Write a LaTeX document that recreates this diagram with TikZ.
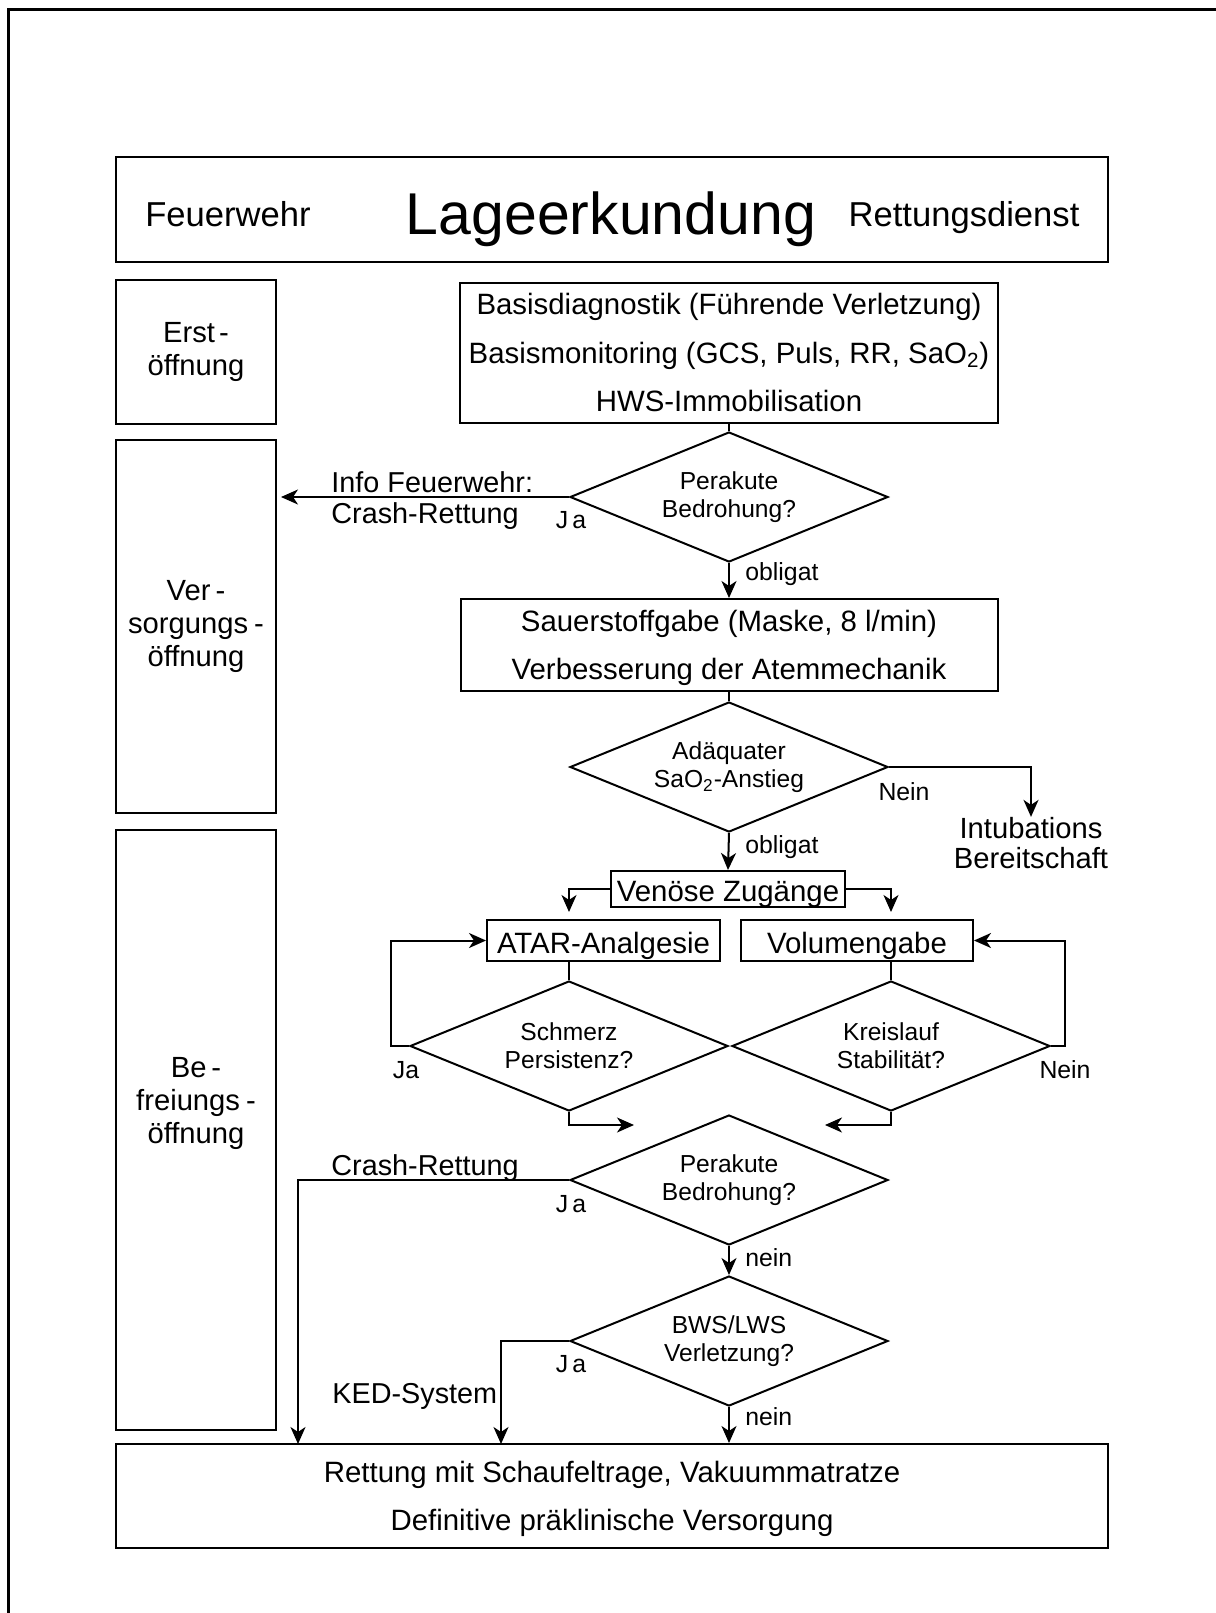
\documentclass[tikz,border=0pt]{standalone}
\usepackage{fontspec}
\setmainfont{Liberation Sans}
\usetikzlibrary{arrows.meta, positioning, shapes.geometric}

\tikzset{
  wbox/.style={draw, line width=1pt, align=center, inner sep=0pt,
               font=\fontsize{14.7}{24.2}\selectfont},
  onebox/.style={wbox, text height=12.6pt, text depth=0pt},
  sbox/.style={draw, line width=1pt, minimum width=80pt, align=center,
               inner sep=0pt, font=\fontsize{14.6}{16.5}\selectfont},
  stext/.style={align=center, inner sep=0pt,
                font=\fontsize{14.6}{16.5}\selectfont},
  dbox/.style={draw, diamond, aspect=2.45, line width=1pt, inner sep=0pt,
               minimum width=159pt, minimum height=65pt, align=center,
               font=\fontsize{12.3}{14}\selectfont},
  lbl/.style={font=\fontsize{12.4}{14}\selectfont, inner sep=0pt},
  txt/.style={font=\fontsize{14.4}{15.5}\selectfont, align=left, inner sep=0pt},
  head/.style={font=\fontsize{17.3}{20}\selectfont, inner sep=0pt,
               text height=12.4pt, text depth=0pt},
  conn/.style={line width=1pt},
  arr/.style={conn, -{Stealth[length=8.5pt, width=7.5pt, inset=2.5pt]}},
}

\begin{document}
\begin{tikzpicture}[x=0.5pt, y=-0.5pt]

  \useasboundingbox (0,0) rectangle (1216,1613);

  % Rahmen (nur links und oben sichtbar)
  \draw[line width=1.4pt] (8.5,1613) |- (1216,9.5);

  % Kopfzeile: Lageerkundung
  \node[wbox, minimum width=496pt, minimum height=52.5pt] (lage) at (612,209.5) {};
  \node[font=\fontsize{29.5}{34}\selectfont, inner sep=0pt,
        text height=25pt, text depth=0pt] (lagetext) at (611,209.5) {Lageerkundung};
  \node[head] (fw) at (228,214) {Feuerwehr};
  \node[head] (rd) at (964,214) {Rettungsdienst};

  % Linke Spalte: Öffnungen
  \node[sbox, minimum height=72pt] (erst) at (196,352)
    {Erst\kern2pt-\\öffnung};
  \node[sbox, minimum height=186.5pt] (vers) at (196,626.5)
    {Ver\kern2.5pt-\\sorgungs\kern3pt-\\öffnung};
  \node[sbox, minimum height=300pt] (befr) at (196,1130) {};
  \node[stext] (befrtext) at (196,1103)
    {Be\kern2.5pt-\\freiungs\kern3pt-\\öffnung};

  % Node 0: Basisdiagnostik
  \node[wbox, minimum width=269pt, minimum height=70pt, text depth=-4pt]
    (basis) at (729,352.5)
    {Basisdiagnostik (Führende Verletzung)\\
     Basismonitoring (GCS, Puls, RR, SaO\textsubscript{2})\\
     HWS-Immobilisation};

  % Node 1: Perakute Bedrohung (oben)
  \node[dbox] (bedr1) at (729,497) {Perakute\\Bedrohung?};

  % Node 2: Sauerstoff
  \node[wbox, minimum width=268.5pt, minimum height=46pt, text depth=-3pt]
    (sauer) at (729,645)
    {Sauerstoffgabe (Maske, 8 l/min)\\Verbesserung der Atemmechanik};

  % Node 3: SaO2-Anstieg
  \node[dbox] (sao2) at (729,767) {Adäquater\\SaO\textsubscript{2}-Anstieg};
  \node[txt, align=center, font=\fontsize{14.6}{15}\selectfont] (intub)
    at (1031,843) {Intubations\\Bereitschaft};

  % Node 4: Venöse Zugänge und Therapie
  \node[onebox, minimum width=117pt, minimum height=18pt] (venen) at (728,889)
    {Venöse Zugänge};
  \node[onebox, minimum width=116.5pt, minimum height=20.5pt] (atar)
    at (603.5,940.5) {ATAR-Analgesie};
  \node[onebox, minimum width=116pt, minimum height=20.5pt] (volumen)
    at (857,940.5) {Volumengabe};

  \node[dbox] (schmerz) at (569,1046) {Schmerz\\Persistenz?};
  \node[dbox] (kreis) at (891,1046) {Kreislauf\\Stabilität?};

  % Node 5: Perakute Bedrohung (unten)
  \node[dbox] (bedr2) at (729,1180) {Perakute\\Bedrohung?};

  % Node 6: BWS/LWS
  \node[dbox] (bws) at (729,1341) {BWS/LWS\\Verletzung?};

  % Node 7: Rettung
  \node[wbox, minimum width=496pt, minimum height=52pt, text depth=-1pt]
    (rettung) at (612,1496)
    {Rettung mit Schaufeltrage, Vakuummatratze\\
     Definitive präklinische Versorgung};

  % Hilfspunkte
  \coordinate (inl) at (634,1125);
  \coordinate (inr) at (825,1125);
  \coordinate (crashdown) at (298,1444);
  \coordinate (keddown) at (501,1444);

  % Verbindungen oben
  \draw[conn] (basis.south) -- (bedr1.north);
  \draw[arr, shorten >=2pt] (bedr1.west) -- (bedr1.west -| vers.east);
  \draw[arr] (bedr1.south) -- (sauer.north);
  \draw[conn] (sauer.south) -- (sao2.north);
  \draw[arr] (sao2.east) -| (intub.north);
  \draw[arr] (sao2.south) -- (venen.north);

  % Verzweigung Zugänge
  \draw[arr, shorten >=3.5pt] (venen.west) -| (schmerz.north |- atar.north);
  \draw[arr, shorten >=3.5pt] (venen.east) -| (kreis.north |- volumen.north);
  \draw[conn] (schmerz.north |- atar.south) -- (schmerz.north);
  \draw[conn] (kreis.north |- volumen.south) -- (kreis.north);

  % Schleifen
  \draw[arr] (schmerz.west) -- ++(-18,0) |- (atar.west);
  \draw[arr] (kreis.east) -- ++(14,0) |- (volumen.east);
  \draw[arr] (schmerz.south) |- (inl);
  \draw[arr] (kreis.south) |- (inr);

  % Verbindungen unten
  \draw[arr] (bedr2.west) -| (crashdown);
  \draw[arr] (bedr2.south) -- (bws.north);
  \draw[arr] (bws.west) -| (keddown);
  \draw[arr] (bws.south) -- (bws.south |- rettung.north);

  % Beschriftungen
  \node[txt, anchor=west] (info) at (331,500.5) {Info Feuerwehr:\\Crash-Rettung};
  \node[lbl] (ja1) at (571,520) {J\kern2pt a};
  \node[lbl, anchor=west] (obl1) at (745,574) {obligat};
  \node[lbl] (nein1) at (904,792) {Nein};
  \node[lbl, anchor=west] (obl2) at (745,847) {obligat};
  \node[lbl] (ja2) at (406,1070) {Ja};
  \node[lbl] (nein2) at (1065,1070) {Nein};
  \node[txt, anchor=west] (crash) at (331,1168) {Crash-Rettung};
  \node[lbl] (ja3) at (571,1204) {J\kern2pt a};
  \node[lbl, anchor=west] (nein3) at (745,1258) {nein};
  \node[lbl] (ja4) at (571,1364) {J\kern2pt a};
  \node[txt, anchor=west] (ked) at (332,1396) {KED-System};
  \node[lbl, anchor=west] (nein4) at (745,1417) {nein};

\end{tikzpicture}
\end{document}
